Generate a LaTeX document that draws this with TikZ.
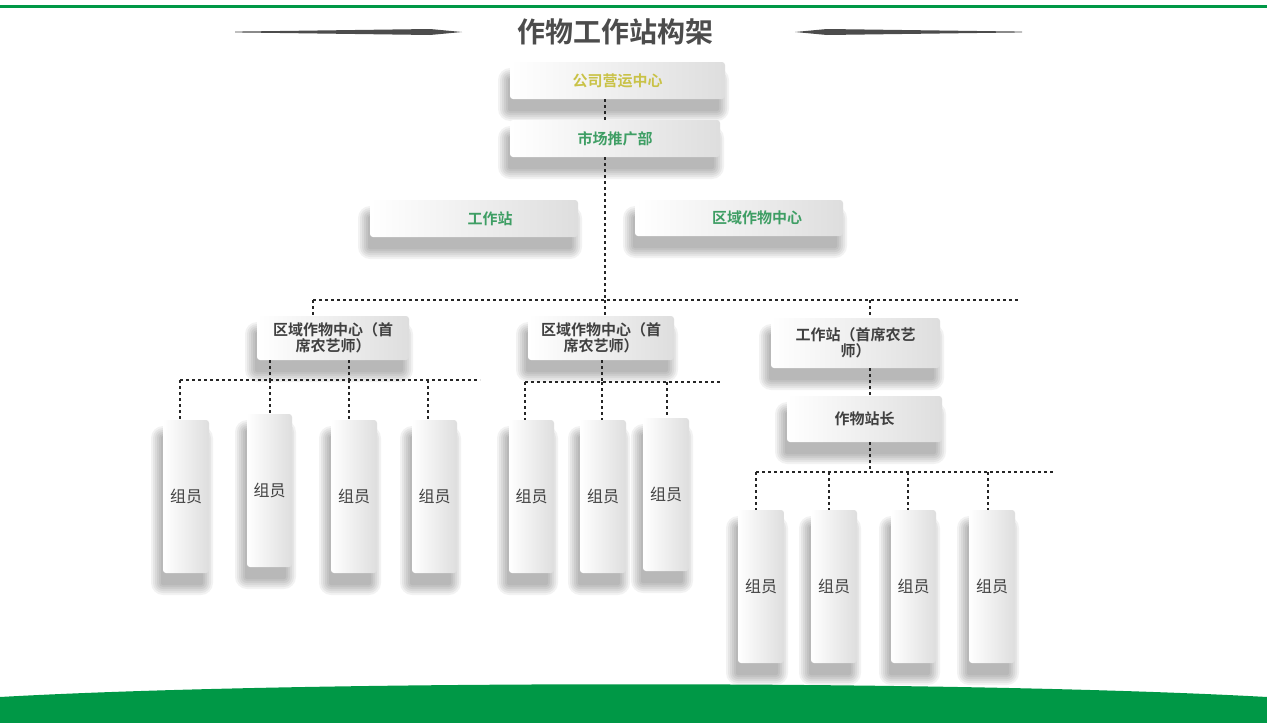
\documentclass[tikz,border=0pt]{standalone}
\usepackage{fontspec}
\setmainfont{Noto Sans CJK SC}
\newfontfamily\cjkb{Noto Sans CJK SC Bold}
\definecolor{dgreen}{HTML}{009846}
\definecolor{tgreen}{HTML}{3E9E64}
\definecolor{tyel}{HTML}{C9C247}
\definecolor{tgray}{HTML}{404040}
\tikzset{
 card/.style={rounded corners=3pt,left color=white,right color=black!13,draw=none,
   inner sep=0pt,align=center,text=tgray},
 conn/.style={dash pattern=on 3pt off 3pt,line width=1.1pt,black!85}
}
\newcommand{\bx}[7][]{%
  \foreach \k in {10,8,...,0}{\fill[black,opacity=0.05,rounded corners={(\k+2)*1pt}] ({#3-4-\k+2},{#4+12-\k+4}) rectangle ({#5-4+\k-2},{#6+12+\k});}
  \node[card,#1,minimum width={(#5-#3)*1pt},minimum height={(#6-#4)*1pt}] (#2) at ({(#3+#5)/2},{(#4+#6)/2}) {#7};}
\begin{document}
\begin{tikzpicture}[x=1pt,y=-1pt]
\useasboundingbox (0,0) rectangle (1267,723);
\fill[white] (0,0) rectangle (1267,723);
\fill[dgreen] (0,4.5) rectangle (1267,7.5);
\fill[dgreen] (0,723) -- (0,697) .. controls (300,680) and (960,680) .. (1267,697) -- (1267,723) -- cycle;
\node[font=\cjkb\fontsize{28}{30}\selectfont,text=black!70] (title) at (615,32) {作物工作站构架};
\fill[black!70] (235,31.6) -- (430,29) -- (462,32) -- (430,35) -- (235,32.4) -- cycle;
\fill[black!70] (1022,31.6) -- (827,29) -- (795,32) -- (827,35) -- (1022,32.4) -- cycle;
% level 1
\bx[text=tyel,font=\cjkb\fontsize{15}{17}\selectfont]{op}{510}{62}{725}{99}{公司营运中心}
\bx[text=tgreen,font=\cjkb\fontsize{15}{17}\selectfont]{mk}{510}{120}{720}{157}{市场推广部}
\bx[text=tgreen,font=\cjkb\fontsize{15}{17}\selectfont]{gz}{370}{200}{578}{237}{\hspace*{32pt}工作站}
\bx[text=tgreen,font=\cjkb\fontsize{15}{17}\selectfont]{qy}{635}{200}{843}{236}{\hspace*{36pt}区域作物中心}
% level 2
\bx[font=\cjkb\fontsize{15}{16}\selectfont]{ra}{257}{316}{409}{360}{区域作物中心（首\\席农艺师）}
\bx[font=\cjkb\fontsize{15}{16}\selectfont]{rb}{528}{316}{674}{360}{区域作物中心（首\\席农艺师）}
\bx[font=\cjkb\fontsize{15}{16}\selectfont]{rc}{771}{318}{940}{368}{工作站（首席农艺\\师）}
\bx[font=\cjkb\fontsize{15}{17}\selectfont]{zz}{787}{396}{942}{442}{作物站长}
% members
\tikzset{mem/.style={font=\fontsize{16}{18}\selectfont}}
\bx[mem]{a1}{163}{420}{209}{573}{组员}
\bx[mem]{a2}{247}{414}{292}{567}{组员}
\bx[mem]{a3}{331}{420}{377}{573}{组员}
\bx[mem]{a4}{412}{420}{457}{573}{组员}
\bx[mem]{b1}{509}{420}{554}{573}{组员}
\bx[mem]{b2}{580}{420}{626}{573}{组员}
\bx[mem]{b3}{643}{418}{689}{571}{组员}
\bx[mem]{c1}{738}{510}{784}{663}{组员}
\bx[mem]{c2}{811}{510}{857}{663}{组员}
\bx[mem]{c3}{891}{510}{936}{663}{组员}
\bx[mem]{c4}{969}{510}{1015}{663}{组员}
% connectors
\coordinate (j0) at (605,99);
\coordinate (hL) at (313,300); \coordinate (hM) at (605,300); \coordinate (hC) at (870,300); \coordinate (hR) at (1020,300);
\draw[conn] (j0) -- (j0 |- mk.north);
\draw[conn] (mk.south -| j0) -- (hM);
\draw[conn] (hL) -- (hR);
\draw[conn] (hL) -- (hL |- ra.north);
\draw[conn] (hM) -- (hM |- rb.north);
\draw[conn] (hC) -- (hC |- rc.north);
\draw[conn] (rc.south -| hC) -- (zz.north -| hC);
\coordinate (aL) at (180,380); \coordinate (aR) at (480,380);
\draw[conn] (aL) -- (aR);
\foreach \n/\x in {a1/180,a2/270,a3/349,a4/428}{\draw[conn] (\x,380) -- (\n.north -| \x,0);}
\draw[conn] (ra.south -| 270,0) -- (270,380);
\draw[conn] (ra.south -| 349,0) -- (349,380);
\coordinate (bL) at (525,382); \coordinate (bR) at (722,382);
\draw[conn] (bL) -- (bR);
\foreach \n/\x in {b1/525,b2/602,b3/667}{\draw[conn] (\x,382) -- (\n.north -| \x,0);}
\draw[conn] (rb.south -| 602,0) -- (602,382);
\coordinate (cL) at (756,472); \coordinate (cR) at (1055,472);
\draw[conn] (cL) -- (cR);
\draw[conn] (zz.south -| 870,0) -- (870,472);
\foreach \n/\x in {c1/756,c2/829,c3/908,c4/988}{\draw[conn] (\x,472) -- (\n.north -| \x,0);}
\end{tikzpicture}
\end{document}
